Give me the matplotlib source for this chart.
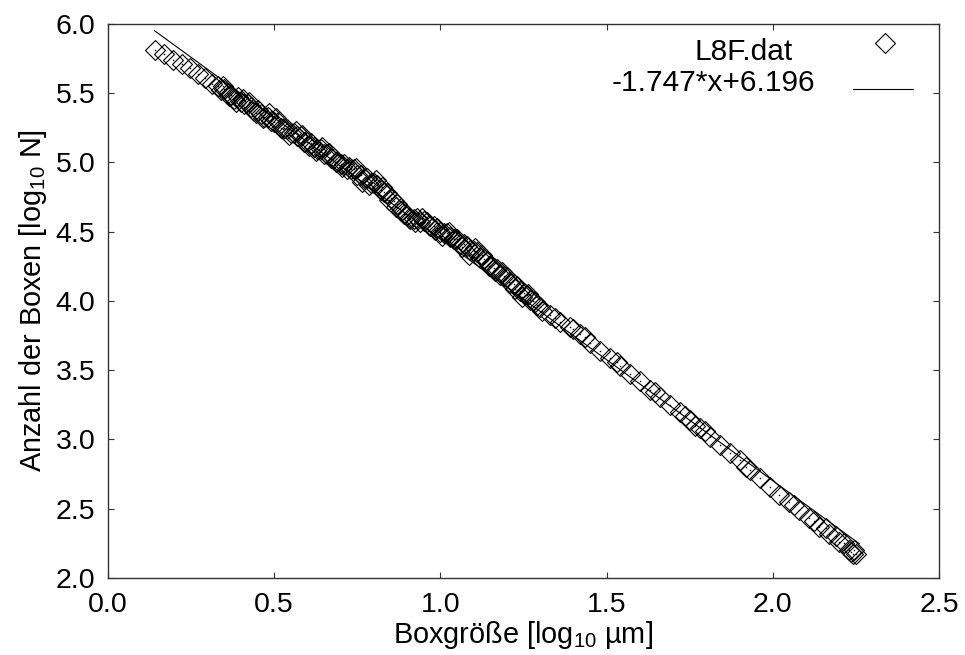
import matplotlib
matplotlib.use("Agg")
from matplotlib import pyplot as plt
import numpy as np

plt.rcParams['font.family'] = ['Liberation Sans', 'DejaVu Sans']
plt.rcParams['mathtext.fontset'] = 'custom'
plt.rcParams['mathtext.rm'] = 'Liberation Sans'
plt.rcParams['mathtext.it'] = 'Liberation Sans'

# Messpunkte (L8F.dat)
x_start = [0.141, 0.169, 0.196, 0.222, 0.246, 0.270, 0.292, 0.313]
y_start = [5.81, 5.78, 5.74, 5.71, 5.68, 5.64, 5.61, 5.57]

x_mid = [0.33, 0.34, 0.35, 0.36, 0.37, 0.38, 0.39, 0.40, 0.41, 0.42,
         0.43, 0.44, 0.45, 0.46, 0.47, 0.48, 0.49, 0.50, 0.51, 0.52,
         0.53, 0.54, 0.55, 0.56, 0.57, 0.58, 0.59, 0.60, 0.61, 0.62,
         0.63, 0.64, 0.65, 0.66, 0.67, 0.68, 0.69, 0.70, 0.71, 0.72,
         0.73, 0.74, 0.75, 0.76, 0.77, 0.78, 0.79, 0.80, 0.81, 0.82,
         0.83, 0.84, 0.85, 0.86, 0.87, 0.88, 0.89, 0.90, 0.91, 0.92,
         0.93, 0.94, 0.95, 0.96, 0.97, 0.98, 0.99, 1.00, 1.01, 1.02,
         1.03, 1.04, 1.05, 1.06, 1.07, 1.08, 1.09, 1.10, 1.11, 1.12,
         1.13, 1.14, 1.15, 1.16, 1.17, 1.18, 1.19, 1.20, 1.21, 1.22,
         1.23, 1.24, 1.25, 1.26, 1.27, 1.28, 1.29, 1.30]
y_mid = [5.55, 5.52, 5.53, 5.50, 5.49, 5.46, 5.47, 5.44, 5.42, 5.42,
         5.40, 5.37, 5.38, 5.35, 5.33, 5.33, 5.30, 5.29, 5.29, 5.25,
         5.25, 5.24, 5.21, 5.21, 5.19, 5.19, 5.15, 5.15, 5.14, 5.11,
         5.10, 5.10, 5.06, 5.06, 5.03, 5.03, 5.00, 4.99, 4.99, 4.95,
         4.95, 4.95, 4.91, 4.91, 4.89, 4.89, 4.85, 4.85, 4.84, 4.80,
         4.79, 4.78, 4.74, 4.72, 4.70, 4.65, 4.63, 4.62, 4.59, 4.59,
         4.60, 4.57, 4.58, 4.57, 4.54, 4.54, 4.53, 4.50, 4.49, 4.49,
         4.46, 4.45, 4.45, 4.41, 4.41, 4.40, 4.37, 4.36, 4.35, 4.31,
         4.30, 4.29, 4.25, 4.24, 4.23, 4.19, 4.18, 4.17, 4.13, 4.12,
         4.11, 4.07, 4.06, 4.04, 4.01, 4.00, 3.97, 3.96]

x_mid2 = [0.345, 0.385, 0.425, 0.465, 0.505, 0.545, 0.585, 0.625, 0.665,
          0.705, 0.745, 0.785, 0.825, 0.865, 0.905, 0.945, 0.985, 1.025,
          1.065, 1.105, 1.145, 1.185, 1.225, 1.265, 1.305]
y_mid2 = [5.55, 5.44, 5.44, 5.32, 5.32, 5.20, 5.20, 5.08, 5.07,
          4.97, 4.96, 4.84, 4.82, 4.68, 4.60, 4.60, 4.51, 4.50,
          4.39, 4.38, 4.25, 4.21, 4.09, 4.05, 3.93]

x_mid3 = [0.365, 0.405, 0.445, 0.485, 0.525, 0.565, 0.605, 0.645, 0.685,
          0.725, 0.765, 0.805, 0.845, 0.885, 0.925, 0.965, 1.005, 1.045,
          1.085, 1.125, 1.165, 1.205, 1.245, 1.285]
y_mid3 = [5.48, 5.46, 5.36, 5.36, 5.24, 5.23, 5.12, 5.11, 5.00,
          4.97, 4.86, 4.87, 4.73, 4.66, 4.57, 4.55, 4.47, 4.45,
          4.33, 4.33, 4.22, 4.14, 4.03, 3.99]

x_end = [1.33, 1.36, 1.39, 1.42, 1.45, 1.48, 1.51, 1.54, 1.57, 1.60,
         1.63, 1.66, 1.69, 1.72, 1.75, 1.78, 1.81, 1.84, 1.87, 1.90,
         1.93, 1.96, 1.99, 2.02, 2.05, 2.08, 2.11, 2.14, 2.17, 2.20,
         2.23, 2.25]
y_end = [3.90, 3.85, 3.81, 3.76, 3.70, 3.64, 3.59, 3.53, 3.47, 3.42,
         3.36, 3.31, 3.25, 3.20, 3.14, 3.08, 3.02, 2.96, 2.90, 2.85,
         2.78, 2.72, 2.66, 2.60, 2.55, 2.49, 2.43, 2.37, 2.32, 2.26,
         2.20, 2.17]

x_end2 = [1.345, 1.40, 1.435, 1.53, 1.645, 1.735, 1.765, 1.795, 1.92,
          2.065, 2.125, 2.16, 2.19, 2.215, 2.235, 2.245, 2.24]
y_end2 = [3.88, 3.80, 3.74, 3.56, 3.34, 3.17, 3.10, 3.06, 2.80,
          2.53, 2.41, 2.36, 2.30, 2.25, 2.19, 2.20, 2.17]

# Fit
slope = -1.747
intercept = 6.196
fit_range = [0.14, 2.26]

xs = np.array(x_start + x_mid + x_mid2 + x_mid3 + x_end + x_end2)
ys = np.array(y_start + y_mid + y_mid2 + y_mid3 + y_end + y_end2)

fig = plt.figure(figsize=(9.65, 6.55), dpi=100)
ax = fig.add_axes([0.1119, 0.1176, 0.8612, 0.8458])

ax.plot(xs, ys, linestyle='none', marker='D', ms=10.5, mfc='none',
        mec='black', mew=0.8)
ax.plot(xs, ys, linestyle='none', marker='s', ms=1.0, mfc='black',
        mec='none')

fx = np.array(fit_range)
ax.plot(fx, slope * fx + intercept, color='black', lw=0.8)

# Legende (gnuplot-Stil)
ax.text(0.7647, 0.9495, 'L8F.dat', transform=ax.transAxes, fontsize=21.5,
        ha='center', va='center')
ax.text(0.7286, 0.8935, '-1.747*x+6.196', transform=ax.transAxes,
        fontsize=21.5, ha='center', va='center')
ax.plot([0.935], [0.9657], transform=ax.transAxes, linestyle='none',
        marker='D', ms=10.5, mfc='none', mec='black', mew=0.8)
ax.plot([0.8965, 0.9687], [0.8827, 0.8827], transform=ax.transAxes,
        color='black', lw=0.8)

ax.set_xlim(0.0, 2.5)
ax.set_ylim(2.0, 6.0)
ax.set_xticks([0.0, 0.5, 1.0, 1.5, 2.0, 2.5])
ax.set_yticks([2.0, 2.5, 3.0, 3.5, 4.0, 4.5, 5.0, 5.5, 6.0])
ax.set_xticklabels(['0.0', '0.5', '1.0', '1.5', '2.0', '2.5'])
ax.set_yticklabels(['2.0', '2.5', '3.0', '3.5', '4.0', '4.5', '5.0',
                    '5.5', '6.0'])
ax.tick_params(direction='in', length=4.5, width=0.8, top=True,
               right=True, labelsize=20.5, color='#333333')
ax.tick_params(axis='x', pad=10)
ax.tick_params(axis='y', pad=9)
for s in ax.spines.values():
    s.set_color('#333333')
    s.set_linewidth(1.0)

ax.set_xlabel('Boxgröße [log$_{10}$ µm]', fontsize=20.8, labelpad=1)
ax.set_ylabel('Anzahl der Boxen [log$_{10}$ N]', fontsize=20.8, labelpad=5)

fig.savefig('out.png', dpi=100)
